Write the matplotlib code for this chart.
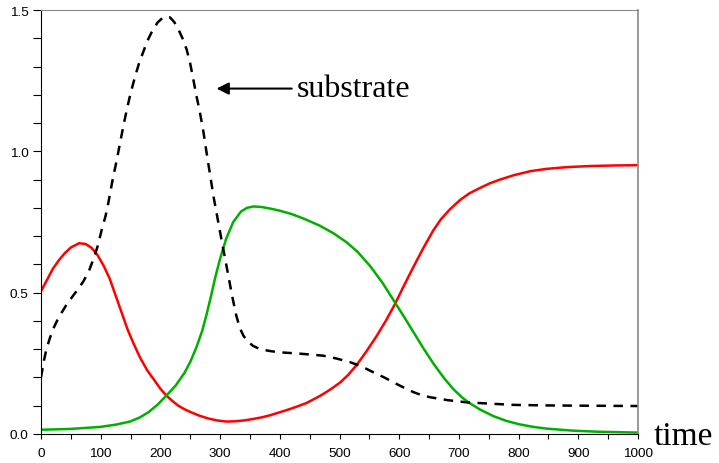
import matplotlib.pyplot as plt
from matplotlib.ticker import MultipleLocator

# red curve
t_red = [0, 10, 20, 30, 40, 50, 64, 75, 85, 95, 105, 115, 125, 135, 145, 155, 166,
         178, 190, 200, 210, 220, 230, 240, 250, 265, 280, 295, 311, 325, 340, 355,
         370, 385, 400, 415, 430, 445, 456, 470, 485, 501, 515, 529, 545, 562, 578,
         593, 608, 624, 640, 657, 670, 685, 702, 718, 735, 752, 769, 791, 820, 847,
         880, 920, 960, 1000]
y_red = [0.505, 0.545, 0.585, 0.615, 0.64, 0.66, 0.675, 0.672, 0.658, 0.632, 0.595,
         0.55, 0.49, 0.43, 0.37, 0.32, 0.27, 0.225, 0.19, 0.16, 0.136, 0.117,
         0.1, 0.088, 0.078, 0.065, 0.055, 0.048, 0.044, 0.045, 0.048, 0.053, 0.059,
         0.067, 0.077, 0.087, 0.098, 0.11, 0.122, 0.138, 0.158, 0.182, 0.21, 0.245,
         0.292, 0.346, 0.402, 0.46, 0.525, 0.592, 0.656, 0.72, 0.76, 0.795, 0.828,
         0.852, 0.87, 0.887, 0.9, 0.915, 0.93, 0.938, 0.944, 0.948, 0.95, 0.951]

# green curve
t_green = [0, 50, 99, 125, 149, 165, 180, 195, 210, 225, 240, 250, 260, 270, 277,
           285, 292, 300, 310, 322, 335, 345, 356, 370, 385, 400, 420, 440, 467,
           490, 512, 530, 551, 572, 593, 608, 624, 640, 657, 675, 691, 705, 716,
           735, 758, 780, 802, 825, 847, 890, 933, 1000]
y_green = [0.015, 0.018, 0.025, 0.033, 0.044, 0.058, 0.077, 0.103, 0.136, 0.17,
           0.215, 0.255, 0.305, 0.365, 0.42, 0.49, 0.555, 0.62, 0.69, 0.75, 0.787,
           0.8, 0.805, 0.803, 0.797, 0.79, 0.778, 0.762, 0.737, 0.71, 0.678,
           0.645, 0.595, 0.535, 0.465, 0.415, 0.36, 0.305, 0.25, 0.198, 0.158, 0.13,
           0.112, 0.087, 0.063, 0.046, 0.034, 0.025, 0.019, 0.012, 0.008, 0.005]

# substrate (dashed)
t_sub = [0, 5, 9, 15, 20, 29, 42, 54, 63, 71, 80, 88, 95, 102, 108, 113, 120, 126,
         132, 138, 144, 150, 157, 164, 171, 178, 185, 195, 205, 216, 223, 230, 237,
         244, 250, 255, 260, 266, 272, 277, 283, 289, 296, 303, 312, 320, 327, 333,
         339, 345, 355, 367, 385, 400, 435, 473, 495, 518, 538, 557, 575, 590, 607,
         624, 638, 652, 680, 713, 747, 791, 850, 920, 1000]
y_sub = [0.2, 0.26, 0.3, 0.34, 0.37, 0.41, 0.455, 0.49, 0.515, 0.54, 0.575, 0.62,
         0.665, 0.725, 0.77, 0.82, 0.9, 0.96, 1.025, 1.09, 1.15, 1.205, 1.26, 1.31,
         1.35, 1.39, 1.42, 1.455, 1.475, 1.474, 1.458, 1.432, 1.4, 1.36, 1.31, 1.256,
         1.2, 1.14, 1.07, 1.0, 0.92, 0.84, 0.76, 0.68, 0.58, 0.49, 0.42, 0.375,
         0.348, 0.33, 0.312, 0.30, 0.293, 0.289, 0.284, 0.277, 0.267, 0.254, 0.238,
         0.218, 0.2, 0.183, 0.165, 0.148, 0.137, 0.13, 0.12, 0.112, 0.108, 0.103,
         0.101, 0.1, 0.099]

fig = plt.figure(figsize=(7.19, 4.64), dpi=100)
ax = fig.add_axes([41 / 719, 29 / 464, 597 / 719, 424 / 464])

ax.plot(t_red, y_red, color="#ff0000", lw=1.8)
ax.plot(t_green, y_green, color="#00b000", lw=1.8)
ax.plot(t_sub, y_sub, color="black", lw=1.8, dashes=(3.8, 3.0))

ax.set_xlim(0, 1000)
ax.set_ylim(0, 1.5)
ax.xaxis.set_major_locator(MultipleLocator(100))
ax.xaxis.set_minor_locator(MultipleLocator(50))
ax.yaxis.set_major_locator(MultipleLocator(0.5))
ax.yaxis.set_minor_locator(MultipleLocator(0.1))
ax.yaxis.set_major_formatter(plt.FuncFormatter(lambda v, p: f"{v:.1f}"))
ax.tick_params(which="both", direction="out", width=0.8, color="black",
               labelsize=9.7)
ax.tick_params(axis="x", which="both", length=3.8, pad=5.5)
ax.tick_params(axis="y", which="both", length=5.5, pad=3.5)
for lab in ax.get_xticklabels() + ax.get_yticklabels():
    lab.set_family("Liberation Sans")

ax.spines["top"].set_color("#888888")
ax.spines["right"].set_color("#888888")
ax.spines["right"].set_linewidth(1.2)

ax.annotate("", xy=(294, 1.222), xytext=(420, 1.222),
            arrowprops=dict(arrowstyle="-|>", color="black", lw=1.5,
                            mutation_scale=18, shrinkA=0, shrinkB=0))
ax.text(429, 1.196, "substrate", family="Liberation Serif", fontsize=23,
        va="baseline", ha="left")
ax.text(1027, -0.035, "time", family="Liberation Serif", fontsize=24,
        va="baseline", ha="left", clip_on=False)

fig.savefig("out.png", dpi=100)
